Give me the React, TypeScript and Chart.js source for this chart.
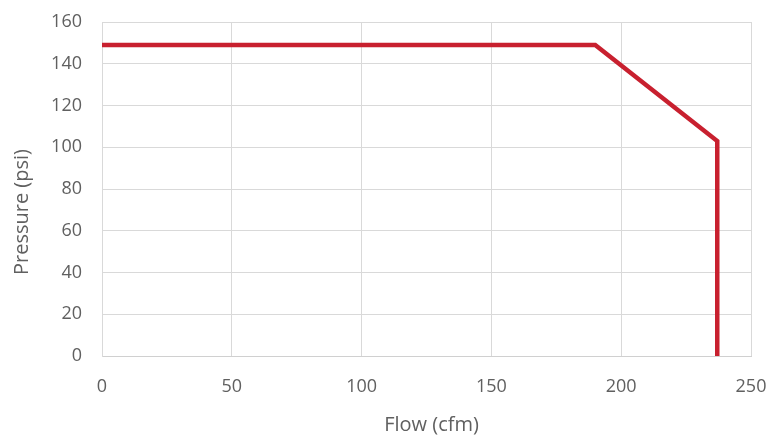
import React, { useEffect, useRef } from "react";
import { Chart, registerables } from "chart.js";

Chart.register(...registerables);

const flowValues = [0, 190, 237, 237];
const pressureValues = [149, 149, 103, 0];
const xTicks = [0, 50, 100, 150, 200, 250];
const yTicks = [0, 20, 40, 60, 80, 100, 120, 140, 160];
const xTitle = "Flow (cfm)";
const yTitle = "Pressure (psi)";

const FONT_FAMILY = "'Open Sans', 'Liberation Sans', sans-serif";
const TEXT_COLOR = "#606060";

const axisTitles = {
  id: "axisTitles",
  afterDraw(chart: any) {
    const { ctx, chartArea } = chart;
    ctx.save();
    ctx.fillStyle = TEXT_COLOR;
    ctx.font = `20px ${FONT_FAMILY}`;
    ctx.textAlign = "center";
    ctx.textBaseline = "middle";
    const cx = (chartArea.left + chartArea.right) / 2 + 5;
    ctx.fillText(xTitle, cx, chartArea.bottom + 69);
    const cy = (chartArea.top + chartArea.bottom) / 2 + 23;
    ctx.translate(22, cy);
    ctx.rotate(-Math.PI / 2);
    ctx.fillText(yTitle, 0, 0);
    ctx.restore();
  },
};

export default function App() {
  const ref = useRef<HTMLCanvasElement | null>(null);
  useEffect(() => {
    document.body.style.margin = "0";
    const ctx = ref.current;
    if (!ctx) return;
    const font = { family: FONT_FAMILY, size: 18 };
    const chart = new Chart(ctx, {
      type: "scatter",
      data: {
        datasets: [
          {
            data: flowValues.map((x, i) => ({ x, y: pressureValues[i] })),
            showLine: true,
            borderColor: "#c8202f",
            backgroundColor: "#c8202f",
            borderWidth: 4.5,
            pointRadius: 0,
            tension: 0,
            borderJoinStyle: "miter",
          },
        ],
      },
      options: {
        animation: false,
        responsive: false,
        maintainAspectRatio: false,
        layout: { padding: { left: 0, right: 22, top: 22, bottom: 0 } },
        plugins: { legend: { display: false }, tooltip: { enabled: false } },
        scales: {
          x: {
            type: "linear",
            min: 0,
            max: 250,
            afterBuildTicks: (s: any) => {
              s.ticks = xTicks.map((v) => ({ value: v }));
            },
            ticks: { color: TEXT_COLOR, font, padding: 20 },
            grid: { color: "#d9d9d9", drawTicks: false, lineWidth: 1 },
            border: { color: "#d0d0d0" },
            afterFit: (s: any) => {
              s.height = 81;
              s.paddingLeft = 0;
              s.paddingRight = 0;
            },
          },
          y: {
            type: "linear",
            min: 0,
            max: 160,
            afterBuildTicks: (s: any) => {
              s.ticks = yTicks.map((v) => ({ value: v }));
            },
            ticks: { color: TEXT_COLOR, font, padding: 20 },
            grid: { color: "#d9d9d9", drawTicks: false, lineWidth: 1 },
            border: { color: "#d9d9d9" },
            afterFit: (s: any) => {
              s.width = 102;
              s.paddingTop = 0;
              s.paddingBottom = 0;
            },
          },
        },
      },
      plugins: [axisTitles],
    });
    return () => chart.destroy();
  }, []);
  return (
    <div style={{ width: 773, height: 437, background: "#fff" }}>
      <canvas ref={ref} width={773} height={437} style={{ width: 773, height: 437 }} />
    </div>
  );
}
